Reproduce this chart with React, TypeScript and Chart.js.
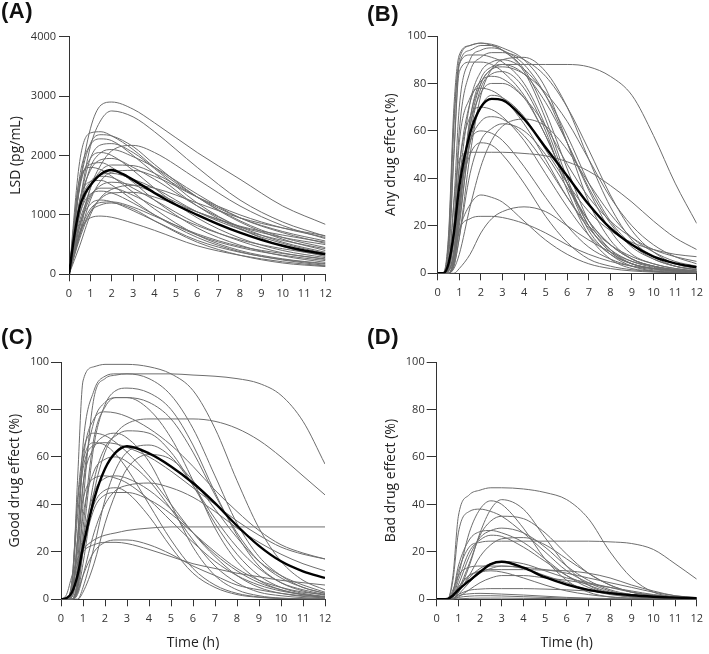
import React, { useEffect, useRef } from "react";
import { Chart, registerables } from "chart.js";
Chart.register(...registerables);

const FONT = "'Open Sans', 'DejaVu Sans', sans-serif";

// ---------- Data ----------
// Time points (h)
const T_LSD = [0, 0.5, 1, 1.5, 2, 3, 4, 6, 8, 10, 12];
const T_EFF = [0, 0.25, 0.5, 0.75, 1, 1.5, 2, 2.5, 3, 4, 5, 6, 7, 8, 9, 10, 11, 12];
const T_MEAN = [0, 0.25, 0.5, 0.75, 1, 1.5, 2, 2.5, 3, 4, 5, 6, 7, 8, 9, 10, 11, 12];

// (A) LSD plasma concentration (pg/mL)
const lsdSubjects = [
  [0, 1500, 2450, 2850, 2900, 2780, 2550, 2050, 1600, 1150, 840],
  [0, 1200, 2150, 2600, 2750, 2650, 2400, 1800, 1250, 880, 640],
  [0, 1900, 2380, 2400, 2330, 2100, 1800, 1300, 900, 620, 450],
  [0, 1500, 2200, 2350, 2330, 2150, 1850, 1300, 880, 590, 400],
  [0, 1650, 2180, 2280, 2250, 2000, 1700, 1150, 760, 520, 350],
  [0, 1200, 1950, 2180, 2200, 2050, 1780, 1200, 780, 470, 300],
  [0, 700, 1450, 1850, 2080, 2170, 2050, 1600, 1150, 820, 600],
  [0, 1100, 1800, 2050, 2100, 1980, 1800, 1350, 950, 700, 520],
  [0, 1450, 1950, 2050, 2000, 1750, 1450, 950, 610, 400, 280],
  [0, 1200, 1750, 1930, 1950, 1800, 1600, 1150, 800, 540, 370],
  [0, 1500, 1850, 1880, 1800, 1550, 1250, 780, 490, 310, 200],
  [0, 800, 1450, 1750, 1840, 1830, 1700, 1300, 950, 720, 560],
  [0, 1600, 1800, 1760, 1650, 1380, 1100, 660, 400, 260, 180],
  [0, 650, 1250, 1580, 1720, 1750, 1650, 1300, 1000, 780, 620],
  [0, 1000, 1500, 1680, 1700, 1600, 1450, 1050, 760, 570, 430],
  [0, 1150, 1560, 1650, 1630, 1450, 1250, 850, 560, 360, 250],
  [0, 1250, 1560, 1580, 1500, 1250, 1000, 620, 380, 240, 150],
  [0, 800, 1300, 1500, 1550, 1500, 1380, 1050, 800, 620, 500],
  [0, 480, 1000, 1300, 1430, 1500, 1450, 1200, 950, 780, 650],
  [0, 900, 1330, 1450, 1450, 1330, 1150, 820, 580, 430, 320],
  [0, 1000, 1350, 1400, 1370, 1200, 1000, 660, 450, 320, 230],
  [0, 600, 1050, 1280, 1370, 1380, 1300, 1050, 810, 660, 540],
  [0, 850, 1180, 1250, 1220, 1070, 900, 570, 370, 250, 170],
  [0, 700, 1100, 1210, 1220, 1130, 980, 680, 470, 350, 260],
  [0, 650, 1050, 1170, 1200, 1100, 900, 540, 320, 190, 130],
  [0, 700, 950, 980, 960, 860, 740, 480, 320, 210, 140],
];
const lsdMean = [0, 650, 1130, 1360, 1500, 1690, 1755, 1690, 1590, 1370, 1170, 1000, 840, 700, 580, 480, 400, 340];

// (B) Any drug effect (%)
const anySubjects = [
  [0, 0, 0, 5, 25, 65, 82, 87, 88, 88, 88, 88, 87, 83, 75, 58, 38, 21],
  [0, 0, 12, 62, 90, 96, 97, 96.5, 95, 90, 78, 55, 30, 14, 6, 3, 1.5, 0.8],
  [0, 0, 6, 50, 88, 94, 96, 96, 94, 85, 65, 40, 20, 9, 4, 2, 1, 0.5],
  [0, 0, 3, 30, 70, 90, 94, 95, 94, 88, 75, 55, 35, 18, 8, 4, 2, 1],
  [0, 0, 14, 65, 88, 92, 92, 91, 89, 80, 62, 38, 18, 8, 3, 1, 0.5, 0.3],
  [0, 0, 0, 3, 15, 50, 75, 86, 90, 91, 85, 70, 48, 28, 14, 7, 3, 1.5],
  [0, 0, 1, 10, 38, 72, 85, 89, 90, 86, 75, 58, 38, 22, 12, 6, 3, 1.5],
  [0, 0, 0, 5, 25, 62, 80, 86, 88, 84, 72, 55, 36, 21, 11, 6, 3, 1.5],
  [0, 0, 0, 4, 20, 58, 78, 84, 85, 78, 60, 35, 16, 6, 2, 1, 0.4, 0.2],
  [0, 0, 2, 15, 45, 72, 81, 83, 82, 74, 58, 38, 20, 9, 4, 2, 1, 0.5],
  [0, 0, 1, 8, 30, 62, 76, 80, 80, 74, 62, 46, 32, 22, 15, 10, 7, 5],
  [0, 0, 3, 20, 55, 74, 78, 77, 74, 63, 48, 32, 19, 10, 5, 2.5, 1.2, 0.6],
  [0, 0, 0, 5, 22, 55, 70, 75, 74, 66, 52, 38, 26, 18, 13, 10, 8, 7],
  [0, 0, 1, 8, 30, 55, 64, 66, 65, 58, 46, 32, 20, 12, 7, 4, 2, 1],
  [0, 0, 0, 2, 8, 28, 45, 56, 62, 65, 62, 52, 38, 25, 15, 9, 5, 3],
  [0, 0, 0, 3, 15, 42, 56, 61, 63, 60, 50, 36, 22, 12, 6, 3, 1.5, 0.8],
  [0, 0, 2, 15, 40, 56, 60, 59, 56, 45, 32, 20, 11, 6, 3, 1.5, 0.7, 0.3],
  [0, 0, 1, 10, 32, 50, 55, 54, 50, 38, 24, 13, 6, 3, 1.5, 0.7, 0.3, 0.1],
  [0, 0, 3, 30, 48, 51, 51, 51, 51, 50.5, 49.5, 47, 43, 37, 30, 22, 15, 10],
  [0, 0, 0, 6, 18, 29, 33, 32, 30, 22, 14, 8, 4, 2, 1, 0.5, 0.2, 0.1],
  [0, 0, 0, 0, 2, 8, 17, 23, 26, 28, 26, 20, 14, 9, 5, 3, 1.5, 0.8],
  [0, 0, 0, 5, 18, 23, 24, 24, 23.5, 21, 17, 12, 8, 5, 3, 2, 1, 0.5],
  [0, 0, 16, 70, 92, 96, 97, 96, 94, 86, 68, 44, 22, 10, 4, 2, 1, 0.5],
  [0, 0, 2, 20, 60, 85, 91, 93, 93, 90, 83, 70, 52, 33, 18, 9, 4, 2],
  [0, 0, 0, 6, 28, 65, 80, 86, 87, 84, 76, 64, 48, 32, 20, 12, 7, 4],
  [0, 0, 2, 15, 45, 66, 70, 69, 66, 56, 42, 28, 16, 8, 4, 2, 1, 0.5],
  [0, 0, 9, 50, 85, 89, 89, 88, 85, 75, 58, 38, 22, 12, 6, 3, 1.5, 0.7],
];
const anyMean = [0, 0, 4, 17, 36.5, 59, 70, 73.5, 73, 65, 53, 41, 29, 19, 12, 7, 4.2, 2.6];

// (C) Good drug effect (%)
const goodSubjects = [
  [0, 0, 5, 50, 92, 98, 99, 99, 99, 98, 95, 88, 72, 50, 30, 16, 8, 4],
  [0, 0, 0, 8, 40, 85, 93, 94.5, 95, 95, 95, 94.5, 94, 93, 91, 86, 75, 57],
  [0, 0, 2, 25, 65, 88, 94, 95, 95, 93, 86, 72, 52, 32, 18, 10, 5, 2.5],
  [0, 0, 0, 5, 25, 65, 82, 88, 89, 87, 80, 65, 45, 27, 14, 7, 3.5, 1.7],
  [0, 0, 0, 6, 30, 68, 81, 85, 85, 83, 76, 62, 44, 28, 16, 9, 5, 2.5],
  [0, 0, 3, 25, 58, 76, 79, 78.5, 77, 72, 65, 56, 46, 37, 29, 23, 19.5, 17],
  [0, 0, 0, 3, 15, 45, 62, 70, 74, 76, 76, 76, 75, 72, 67, 60, 52, 44],
  [0, 0, 0, 4, 20, 50, 64, 69, 71, 70, 62, 48, 32, 19, 10, 5, 2.5, 1.2],
  [0, 0, 8, 42, 62, 70, 69, 66, 62, 52, 40, 28, 18, 10, 5, 2.5, 1.2, 0.6],
  [0, 0, 6, 35, 55, 65, 66, 65.5, 64, 60, 54, 47, 40, 33, 27, 22, 19, 17],
  [0, 0, 0, 0, 5, 22, 42, 55, 62, 65, 60, 48, 34, 22, 13, 7, 4, 2],
  [0, 0, 0, 0, 3, 15, 32, 45, 55, 61, 59, 50, 38, 26, 16, 10, 6, 3],
  [0, 0, 3, 25, 42, 51, 52, 51, 49, 42, 33, 24, 16, 10, 6, 3.5, 2, 1],
  [0, 0, 0, 8, 25, 45, 51, 52, 51, 46, 38, 28, 19, 12, 7, 4, 2, 1],
  [0, 0, 0, 2, 10, 28, 40, 46, 48, 49, 47, 43, 37, 30, 24, 19, 15, 12],
  [0, 0, 0, 5, 20, 38, 44, 45, 45, 42, 36, 28, 20, 13, 8, 5, 3, 2],
  [0, 2, 10, 17, 21, 25, 27, 28, 29, 30, 30.5, 30.5, 30.5, 30.5, 30.5, 30.5, 30.5, 30.5],
  [0, 0, 0, 3, 10, 20, 24, 25, 25, 23, 19, 14, 10, 6, 4, 2.5, 1.5, 1],
  [0, 0, 5, 15, 20, 23, 24, 24, 23.5, 21, 18, 15, 13, 11, 9.5, 8, 7, 6],
  [0, 0, 2, 20, 48, 64, 69, 70, 68, 58, 40, 22, 10, 4, 1.5, 0.5, 0.2, 0.1],
  [0, 0, 8, 40, 58, 66, 65, 61, 55, 40, 25, 13, 6, 2.5, 1, 0.4, 0.2, 0.1],
  [0, 0, 1, 12, 35, 54, 59, 60, 58, 50, 38, 25, 14, 7, 3, 1.5, 0.7, 0.3],
  [0, 0, 0, 6, 22, 40, 46, 47, 45, 35, 22, 11, 5, 2, 0.8, 0.3, 0.1, 0],
  [0, 0, 1, 15, 48, 75, 83, 85, 85, 80, 68, 50, 30, 16, 8, 4, 2, 1],
];
const goodMean = [0, 0.5, 3, 10, 22, 42, 55, 62, 64.5, 61.5, 56, 49, 40.5, 31, 22.5, 16, 11.8, 9];

// (D) Bad drug effect (%)
const badSubjects = [
  [0, 0, 0, 10, 35, 44, 46, 47, 47, 46.5, 45, 42, 34, 20, 9, 3, 1, 0.3],
  [0, 0, 0, 3, 12, 22, 24, 24.5, 24.5, 24.5, 24.5, 24.5, 24.5, 24.2, 23.5, 21, 15, 8.5],
  [0, 0, 0, 0, 3, 14, 28, 38, 42, 38, 26, 14, 6, 2.5, 1, 0.4, 0.2, 0.1],
  [0, 0, 0, 2, 10, 28, 38, 41.5, 40, 30, 17, 8, 3, 1, 0.4, 0.2, 0, 0],
  [0, 0, 0, 8, 28, 37, 38, 37, 35, 28, 20, 12, 7, 3.5, 1.5, 0.7, 0.3, 0.1],
  [0, 0, 0, 0, 4, 15, 27, 33, 35, 34, 28, 19, 11, 6, 3, 1.5, 0.7, 0.3],
  [0, 0, 0, 1, 6, 18, 26, 29, 30, 28, 22, 14, 8, 4, 2, 1, 0.5, 0.2],
  [0, 0, 0, 3, 14, 25, 28.5, 29, 28, 24, 17, 10, 5, 2.5, 1, 0.5, 0.2, 0.1],
  [0, 0, 0, 1, 8, 20, 25, 27, 26.5, 22, 16, 10, 6, 3, 1.5, 0.7, 0.3, 0.1],
  [0, 0, 0, 0, 3, 10, 18, 23, 25.5, 26, 23, 17, 11, 6, 3, 1.5, 0.7, 0.3],
  [0, 0, 0, 4, 10, 13.5, 14, 14, 14, 13.5, 12.5, 11, 9, 7, 5, 3, 1.5, 0.7],
  [0, 0, 0, 1, 5, 10, 12, 12.5, 12.5, 12.5, 12.3, 12, 11, 9, 6, 3.5, 1.5, 0.5],
  [0, 0, 0, 0, 2, 7, 11, 13, 14, 13, 10, 7, 4, 2, 1, 0.5, 0.2, 0],
  [0, 0, 0, 1, 5, 10, 11.5, 12, 11.5, 9, 6, 3.5, 2, 1, 0.5, 0.2, 0.1, 0],
  [0, 0, 0, 0.5, 2, 3.8, 4.3, 4.5, 4.5, 4.5, 4.3, 4, 3.5, 2.8, 2, 1.2, 0.6, 0.3],
  [0, 0, 0, 0.3, 1.5, 2.3, 2.5, 2.4, 2.2, 1.8, 1.3, 0.8, 0.5, 0.3, 0.1, 0, 0, 0],
  [0, 0, 0, 0.2, 0.8, 1.3, 1.5, 1.5, 1.4, 1.1, 0.8, 0.5, 0.3, 0.1, 0, 0, 0, 0],
  [0, 0, 0, 0, 0.2, 0.4, 0.5, 0.5, 0.5, 0.4, 0.3, 0.2, 0.1, 0, 0, 0, 0, 0],
  [0, 0, 0, 0, 3, 9, 13, 15, 16, 15, 12, 9, 7, 5, 3, 1.8, 1, 0.5],
  [0, 0, 0, 0, 1, 4, 7, 9, 10, 10, 9, 8, 6.5, 5, 3.5, 2, 1, 0.5],
];
const badMean = [0, 0, 0.2, 1.6, 4, 7.8, 11.5, 14.8, 15.8, 13.3, 9.3, 6.2, 4, 2.6, 1.7, 1.1, 0.7, 0.45];

const X_MIN = 0;
const X_MAX = 12;
const X_STEP = 1;
const LSD_MAX = 4000;
const LSD_STEP = 1000;
const EFF_MAX = 100;
const EFF_STEP = 20;

// ---------- Layout ----------
type Spec = {
  label: string;
  yTitle: string;
  xTitle: string | null;
  t: number[];
  subjects: number[][];
  mean: number[];
  yMax: number;
  yStep: number;
  left: number;
  top: number;
  width: number;
  height: number;
  pad: { left: number; top: number; right: number; bottom: number };
  yWidth: number;
  xHeight: number;
  yTickPad: number;
  labelPos: { left: number; top: number };
};

const panels: Spec[] = [
  {
    label: "(A)", yTitle: "LSD (pg/mL)", xTitle: null, t: T_LSD,
    subjects: lsdSubjects, mean: lsdMean, yMax: LSD_MAX, yStep: LSD_STEP,
    left: 0, top: 0, width: 354, height: 320,
    pad: { left: 2.2, top: 36.7, right: 28.5, bottom: 15.7 },
    yWidth: 66.8, xHeight: 30, yTickPad: 3,
    labelPos: { left: 1, top: 0 },
  },
  {
    label: "(B)", yTitle: "Any drug effect (%)", xTitle: null, t: T_EFF,
    subjects: anySubjects, mean: anyMean, yMax: EFF_MAX, yStep: EFF_STEP,
    left: 354, top: 0, width: 355, height: 320,
    pad: { left: 23.7, top: 36, right: 7.3, bottom: 16.7 },
    yWidth: 60, xHeight: 30, yTickPad: 1.5,
    labelPos: { left: 367, top: 3 },
  },
  {
    label: "(C)", yTitle: "Good drug effect (%)", xTitle: "Time (h)", t: T_EFF,
    subjects: goodSubjects, mean: goodMean, yMax: EFF_MAX, yStep: EFF_STEP,
    left: 0, top: 320, width: 354, height: 334,
    pad: { left: 1.7, top: 42, right: 29, bottom: 0 },
    yWidth: 59.3, xHeight: 54.7, yTickPad: 2,
    labelPos: { left: 1, top: 326 },
  },
  {
    label: "(D)", yTitle: "Bad drug effect (%)", xTitle: "Time (h)", t: T_EFF,
    subjects: badSubjects, mean: badMean, yMax: EFF_MAX, yStep: EFF_STEP,
    left: 354, top: 320, width: 355, height: 334,
    pad: { left: 23.7, top: 42, right: 7.3, bottom: 0 },
    yWidth: 59, xHeight: 54.7, yTickPad: 2,
    labelPos: { left: 367, top: 326 },
  },
];

const AXIS = "#333333";
const SUBJECT = "#6e6e6e";

function toPoints(t: number[], v: number[]) {
  return t.map((x, i) => ({ x, y: v[i] }));
}

function Panel({ spec }: { spec: Spec }) {
  const ref = useRef<HTMLCanvasElement>(null);
  useEffect(() => {
    const canvas = ref.current;
    if (!canvas) return;
    const base = { pointRadius: 0, fill: false, cubicInterpolationMode: "monotone" as const };
    const datasets: any[] = [
      { ...base, data: toPoints(T_MEAN, spec.mean), borderColor: "#000000", borderWidth: 2.4, order: 0 },
      ...spec.subjects.map((s) => ({
        ...base,
        data: toPoints(spec.t, s),
        borderColor: SUBJECT,
        borderWidth: 1,
        order: 1,
      })),
    ];
    const chart = new Chart(canvas, {
      type: "line",
      data: { datasets },
      options: {
        animation: false,
        responsive: false,
        devicePixelRatio: 1,
        events: [],
        layout: { padding: spec.pad },
        plugins: { legend: { display: false }, tooltip: { enabled: false } },
        scales: {
          x: {
            type: "linear",
            min: X_MIN,
            max: X_MAX,
            afterFit: (s: any) => { s.height = spec.xHeight; },
            ticks: {
              stepSize: X_STEP,
              autoSkip: false,
              maxRotation: 0,
              color: AXIS,
              padding: 6,
              font: { family: FONT, size: 11 },
              callback: (v: any) => String(v),
            },
            grid: { display: true, drawOnChartArea: false, drawTicks: true, tickLength: 7, color: AXIS, lineWidth: 1 },
            border: { display: true, color: AXIS, width: 1 },
            title: spec.xTitle
              ? { display: true, text: spec.xTitle, color: "#222", font: { family: FONT, size: 14 }, padding: { top: 0, bottom: 3 } }
              : { display: false },
          },
          y: {
            type: "linear",
            min: 0,
            max: spec.yMax,
            afterFit: (s: any) => { s.width = spec.yWidth; },
            ticks: {
              stepSize: spec.yStep,
              color: AXIS,
              padding: spec.yTickPad,
              font: { family: FONT, size: 11 },
              callback: (v: any) => String(v),
            },
            grid: { display: true, drawOnChartArea: false, drawTicks: true, tickLength: 10, color: AXIS, lineWidth: 1 },
            border: { display: true, color: AXIS, width: 1 },
            title: { display: true, text: spec.yTitle, color: "#222", font: { family: FONT, size: 14 }, padding: { top: 5, bottom: 0 } },
          },
        },
      } as any,
    });
    return () => chart.destroy();
  }, [spec]);
  return (
    <canvas
      ref={ref}
      width={spec.width}
      height={spec.height}
      style={{ position: "absolute", left: spec.left, top: spec.top, width: spec.width, height: spec.height }}
    />
  );
}

export default function App() {
  return (
    <div style={{ position: "absolute", left: 0, top: 0, width: 709, height: 654, background: "#fff", overflow: "hidden" }}>
      {panels.map((p) => (
        <Panel key={p.label} spec={p} />
      ))}
      {panels.map((p) => (
        <div
          key={"l" + p.label}
          style={{
            position: "absolute",
            left: p.labelPos.left,
            top: p.labelPos.top,
            fontFamily: "'Liberation Sans', Arial, sans-serif",
            fontWeight: 700,
            fontSize: 22,
            lineHeight: 1,
            color: "#111",
            letterSpacing: 0.5,
          }}
        >
          {p.label}
        </div>
      ))}
    </div>
  );
}
